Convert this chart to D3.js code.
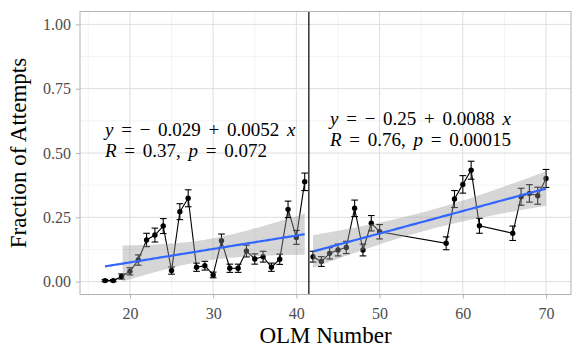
<!DOCTYPE html>
<html>
<head>
<meta charset="utf-8">
<script src="https://cdn.jsdelivr.net/npm/d3@7"></script>
<style>
  body { margin: 0; background: #fff; }
  text { font-family: "Liberation Serif", "Times New Roman", serif; }
</style>
</head>
<body>
<div id="chart"></div>
<script>
// OLM numbers and fraction of attempts, before and after the split
const olmLeft = [17, 18, 19, 20, 21, 22, 23, 24, 25, 26, 27, 28, 29, 30, 31, 32, 33, 34, 35, 36, 37, 38, 39, 40, 41];
const fracLeft = [0.004, 0.004, 0.02, 0.04, 0.084, 0.162, 0.181, 0.216, 0.043, 0.272, 0.324, 0.056, 0.062,
  0.026, 0.159, 0.052, 0.052, 0.119, 0.088, 0.097, 0.056, 0.087, 0.281, 0.172, 0.388];
const errLeft = [0.004, 0.004, 0.01, 0.014, 0.02, 0.026, 0.027, 0.029, 0.014, 0.031, 0.033, 0.016, 0.017,
  0.011, 0.026, 0.016, 0.016, 0.023, 0.02, 0.021, 0.016, 0.02, 0.032, 0.027, 0.034];

const olmRight = [42, 43, 44, 45, 46, 47, 48, 49, 50, 58, 59, 60, 61, 62, 66, 67, 68, 69, 70];
const fracRight = [0.097, 0.078, 0.11, 0.123, 0.133, 0.285, 0.123, 0.227, 0.194, 0.149, 0.321, 0.378,
  0.433, 0.217, 0.188, 0.33, 0.343, 0.334, 0.401];
const errRight = [0.021, 0.019, 0.022, 0.023, 0.024, 0.032, 0.023, 0.03, 0.028, 0.025, 0.033, 0.034,
  0.035, 0.029, 0.028, 0.033, 0.034, 0.033, 0.035];

const splitAt = 41.5;

const xTicks = [20, 30, 40, 50, 60, 70];
const xMinor = [15, 25, 35, 45, 55, 65];
const yTicks = [0, 0.25, 0.5, 0.75, 1];
const yTickLabels = ["0.00", "0.25", "0.50", "0.75", "1.00"];
const yMinor = [0.125, 0.375, 0.625, 0.875];

// regression labels (italic parts flagged)
const labelLeft = [
  [["y", true], [" = − 0.029 + 0.0052 ", false], ["x", true]],
  [["R", true], [" = 0.37, ", false], ["p", true], [" = 0.072", false]]
];
const labelRight = [
  [["y", true], [" = − 0.25 + 0.0088 ", false], ["x", true]],
  [["R", true], [" = 0.76, ", false], ["p", true], [" = 0.00015", false]]
];

// t quantiles for 95% interval (df = n - 2)
const tLeft = 2.069;
const tRight = 2.110;

const width = 583, height = 360;
const margin = { top: 11.5, right: 12, bottom: 65.5, left: 80 };

const x = d3.scaleLinear().domain([14, 73]).range([margin.left, width - margin.right]);
const y = d3.scaleLinear().domain([-0.05, 1.05]).range([height - margin.bottom, margin.top]);

const svg = d3.select("#chart").append("svg")
  .attr("width", width)
  .attr("height", height);

// grid
const grid = svg.append("g");
grid.selectAll(".xminor").data(xMinor).enter().append("line")
  .attr("x1", d => x(d)).attr("x2", d => x(d))
  .attr("y1", y.range()[0]).attr("y2", y.range()[1])
  .attr("stroke", "#EDEDED").attr("stroke-width", 0.6);
grid.selectAll(".yminor").data(yMinor).enter().append("line")
  .attr("x1", x.range()[0]).attr("x2", x.range()[1])
  .attr("y1", d => y(d)).attr("y2", d => y(d))
  .attr("stroke", "#EDEDED").attr("stroke-width", 0.6);
grid.selectAll(".xmajor").data(xTicks).enter().append("line")
  .attr("x1", d => x(d)).attr("x2", d => x(d))
  .attr("y1", y.range()[0]).attr("y2", y.range()[1])
  .attr("stroke", "#DEDEDE").attr("stroke-width", 1);
grid.selectAll(".ymajor").data(yTicks).enter().append("line")
  .attr("x1", x.range()[0]).attr("x2", x.range()[1])
  .attr("y1", d => y(d)).attr("y2", d => y(d))
  .attr("stroke", "#DEDEDE").attr("stroke-width", 1);

// least squares fit plus confidence band, like geom_smooth(method = "lm")
function fit(xs, ys, t) {
  const n = xs.length;
  const mx = d3.mean(xs), my = d3.mean(ys);
  const sxx = d3.sum(xs, v => (v - mx) ** 2);
  const sxy = d3.sum(xs.map((v, i) => (v - mx) * (ys[i] - my)));
  const b = sxy / sxx, a = my - b * mx;
  const sse = d3.sum(xs.map((v, i) => (ys[i] - a - b * v) ** 2));
  const s = Math.sqrt(sse / (n - 2));
  const lo = d3.min(xs), hi = d3.max(xs);
  return d3.range(80).map(k => {
    const xv = lo + (hi - lo) * k / 79;
    const yv = a + b * xv;
    const se = s * Math.sqrt(1 / n + (xv - mx) ** 2 / sxx);
    return { x: xv, y: yv, lo: yv - t * se, hi: yv + t * se };
  });
}

const groups = [
  { xs: olmLeft, ys: fracLeft, es: errLeft, t: tLeft },
  { xs: olmRight, ys: fracRight, es: errRight, t: tRight }
];

const lineGen = d3.line().x(d => x(d[0])).y(d => y(d[1]));

groups.forEach(g => {
  const pts = g.xs.map((v, i) => [v, g.ys[i], g.es[i]]);
  const layer = svg.append("g");

  layer.append("path")
    .attr("d", lineGen(pts))
    .attr("fill", "none")
    .attr("stroke", "#000")
    .attr("stroke-width", 1.1);

  const bars = layer.selectAll(".bar").data(pts).enter().append("g");
  bars.append("line")
    .attr("x1", d => x(d[0])).attr("x2", d => x(d[0]))
    .attr("y1", d => y(d[1] - d[2])).attr("y2", d => y(d[1] + d[2]))
    .attr("stroke", "#000").attr("stroke-width", 1.1);
  [-1, 1].forEach(sgn => {
    bars.append("line")
      .attr("x1", d => x(d[0] - 0.4)).attr("x2", d => x(d[0] + 0.4))
      .attr("y1", d => y(d[1] + sgn * d[2])).attr("y2", d => y(d[1] + sgn * d[2]))
      .attr("stroke", "#000").attr("stroke-width", 1.1);
  });

  layer.selectAll("circle").data(pts).enter().append("circle")
    .attr("cx", d => x(d[0])).attr("cy", d => y(d[1]))
    .attr("r", 2.7).attr("fill", "#000");

  // band (dropped where it leaves the 0..1 limits)
  const band = fit(g.xs, g.ys, g.t);
  const inside = band.filter(d => d.lo >= 0 && d.hi <= 1);
  svg.append("path")
    .attr("d", d3.area().x(d => x(d.x)).y0(d => y(d.lo)).y1(d => y(d.hi))(inside))
    .attr("fill", "#999999")
    .attr("fill-opacity", 0.4);
  g.band = band;
});

groups.forEach(g => {
  svg.append("path")
    .attr("d", d3.line().x(d => x(d.x)).y(d => y(d.y))(g.band))
    .attr("fill", "none")
    .attr("stroke", "#3366FF")
    .attr("stroke-width", 2.2);
});

// split line
svg.append("line")
  .attr("x1", x(splitAt)).attr("x2", x(splitAt))
  .attr("y1", y.range()[0]).attr("y2", y.range()[1])
  .attr("stroke", "#000").attr("stroke-width", 1.2);

// panel border
svg.append("rect")
  .attr("x", x.range()[0]).attr("y", y.range()[1])
  .attr("width", x.range()[1] - x.range()[0])
  .attr("height", y.range()[0] - y.range()[1])
  .attr("fill", "none").attr("stroke", "#B3B3B3").attr("stroke-width", 1);

// axes
const xAxis = svg.append("g")
  .attr("transform", `translate(0,${y.range()[0]})`)
  .call(d3.axisBottom(x).tickValues(xTicks).tickSize(4).tickPadding(5));
const yAxis = svg.append("g")
  .attr("transform", `translate(${x.range()[0]},0)`)
  .call(d3.axisLeft(y).tickValues(yTicks).tickFormat((d, i) => yTickLabels[i]).tickSize(4).tickPadding(5));
[xAxis, yAxis].forEach(ax => {
  ax.select(".domain").remove();
  ax.selectAll(".tick line").attr("stroke", "#B3B3B3");
  ax.selectAll(".tick text")
    .attr("fill", "#4D4D4D")
    .style("font-size", "16px")
    .style("font-family", "Liberation Serif, serif");
});
xAxis.selectAll(".tick text").attr("dy", "0.95em");

// axis titles
svg.append("text")
  .attr("x", (x.range()[0] + x.range()[1]) / 2)
  .attr("y", 343)
  .attr("text-anchor", "middle")
  .style("font-size", "23px")
  .text("OLM Number");
svg.append("text")
  .attr("transform", `translate(26,${(y.range()[0] + y.range()[1]) / 2}) rotate(-90)`)
  .attr("text-anchor", "middle")
  .style("font-size", "23px")
  .text("Fraction of Attempts");

// regression labels
function addLabel(lines, x0, y0) {
  lines.forEach((parts, li) => {
    const t = svg.append("text")
      .attr("x", x0).attr("y", y0 + li * 21)
      .style("font-size", "19px")
      .style("word-spacing", "3px");
    parts.forEach(p => {
      t.append("tspan")
        .attr("font-style", p[1] ? "italic" : "normal")
        .text(p[0]);
    });
  });
}
addLabel(labelLeft, 105, 135.5);
addLabel(labelRight, 330, 124.5);
</script>
</body>
</html>
